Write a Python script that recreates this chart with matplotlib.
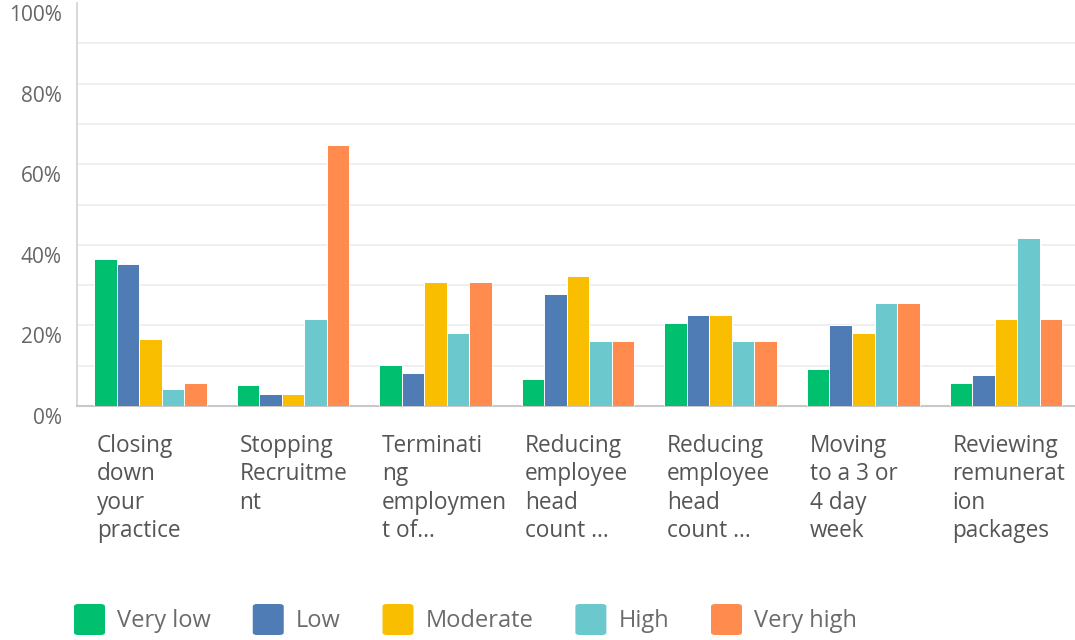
import matplotlib
matplotlib.use("Agg")
import matplotlib.pyplot as plt
import matplotlib.transforms as mtransforms
from matplotlib.patches import FancyBboxPatch
import numpy as np

plt.rcParams['font.family'] = ['Open Sans', 'DejaVu Sans']

categories = [
    "Closing\ndown\nyour\npractice",
    "Stopping\nRecruitme\nnt",
    "Terminati\nng\nemploymen\nt of...",
    "Reducing\nemployee\nhead\ncount ...",
    "Reducing\nemployee\nhead\ncount ...",
    "Moving\nto a 3 or\n4 day\nweek",
    "Reviewing\nremunerat\nion\npackages",
]
series_names = ["Very low", "Low", "Moderate", "High", "Very high"]
very_low = [36.6, 5.1, 10.1, 6.6, 20.7, 9.1, 5.6]
low = [35.2, 3.1, 8.1, 27.7, 22.7, 20.2, 7.6]
moderate = [16.6, 3.1, 30.7, 32.2, 22.7, 18.1, 21.6]
high = [4.1, 21.6, 18.1, 16.1, 16.1, 25.6, 41.6]
very_high = [5.6, 64.7, 30.7, 16.1, 16.1, 25.6, 21.6]
y_ticks = [0, 20, 40, 60, 80, 100]
grid_levels = [10, 20, 30, 40, 50, 60, 70, 80, 90]

colors = ["#00BF6F", "#507CB6", "#F9BE00", "#6BC8CD", "#FF8B4F"]

fig = plt.figure(figsize=(10.75, 6.4), dpi=100)
ax = fig.add_axes([77 / 1075, 234 / 640, 998 / 1075, 403 / 640])

x = np.arange(len(categories))
width = 0.158
all_series = [very_low, low, moderate, high, very_high]
for k, (vals, col) in enumerate(zip(all_series, colors)):
    ax.bar(x + (k - 2) * width + 0.015, vals, width, color=col,
           edgecolor="white", linewidth=0.7, zorder=3)

ax.set_xlim(-0.5, len(categories) - 0.5)
ax.set_ylim(0, 100)

# light horizontal grid every 10%
ax.hlines(grid_levels, -0.5, len(categories) - 0.5, colors="#ececec",
          linewidth=1.2, zorder=1)

for side in ["top", "right"]:
    ax.spines[side].set_visible(False)
ax.spines["left"].set_color("#d2d2d2")
ax.spines["left"].set_linewidth(1.2)
ax.spines["bottom"].set_color("#c8c8c8")
ax.spines["bottom"].set_linewidth(1.5)

ax.set_xticks([])
ax.set_yticks(y_ticks)
ax.set_yticklabels([f"{t}%" for t in y_ticks], fontsize=15, color="#666666")
ax.tick_params(axis="y", length=0, pad=11)
shift = mtransforms.ScaledTranslation(0, -10 / 100, fig.dpi_scale_trans)
for lbl in ax.get_yticklabels():
    lbl.set_transform(lbl.get_transform() + shift)

# wrapped category labels, left aligned under each group
lab_trans = mtransforms.offset_copy(ax.get_xaxis_transform(), fig=fig,
                                    y=-28 * 0.72, units="points")
for i, cat in enumerate(categories):
    ax.text(i - 0.36, 0, cat, transform=lab_trans, ha="left", va="top",
            fontsize=16.3, color="#555555", linespacing=1.24)

# legend row along the bottom
renderer = fig.canvas.get_renderer()
x_px = 74
for name, col in zip(series_names, colors):
    box = FancyBboxPatch((x_px / 1075, 5 / 640), 31 / 1075, 31 / 640,
                         boxstyle="round,pad=0,rounding_size=0.004",
                         transform=fig.transFigure, facecolor=col,
                         edgecolor="none")
    fig.patches.append(box)
    t = fig.text((x_px + 43) / 1075, 19 / 640, name, ha="left", va="center",
                 fontsize=17, color="#6b6b6b")
    w = t.get_window_extent(renderer=renderer).width
    x_px = x_px + 43 + w + 42

fig.savefig("out.png", dpi=100)
